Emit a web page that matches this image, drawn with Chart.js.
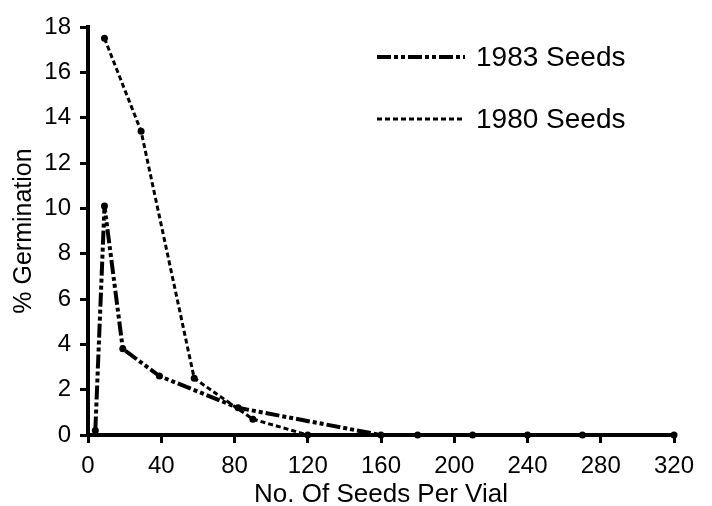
<!DOCTYPE html>
<html>
<head>
<meta charset="utf-8">
<script src="https://cdn.jsdelivr.net/npm/chart.js@4.4.1/dist/chart.umd.min.js"></script>
<style>
  html, body { margin: 0; padding: 0; background: #fff; }
  #wrap { width: 712px; height: 506px; position: relative; }
</style>
</head>
<body>
<div id="wrap"><canvas id="chart"></canvas></div>
<script>
// данные
const seeds1983 = [4, 9, 19, 39, 82, 160, 180, 210, 240, 270, 320];
const germ1983 = [0.2, 10.1, 3.8, 2.6, 1.2, 0, 0, 0, 0, 0, 0];
const seeds1980 = [9, 29, 58, 90, 120];
const germ1980 = [17.5, 13.4, 2.5, 0.7, 0];
const seriesLabels = ['1983 Seeds', '1980 Seeds'];
const xTicks = [0, 40, 80, 120, 160, 200, 240, 280, 320];
const yTicks = [0, 2, 4, 6, 8, 10, 12, 14, 16, 18];

const FONT = '"Liberation Sans", Arial, Helvetica, sans-serif';
const dash1983 = [14, 3, 4, 3, 4, 3];
const dash1980 = [5, 3];

// легенда рисуется вручную, как на оригинале
const legendPlugin = {
    id: 'manualLegend',
    afterDraw(chart) {
        const ctx = chart.ctx;
        const rows = [
            { y: 57, dash: dash1983, width: 4, text: seriesLabels[0] },
            { y: 119, dash: dash1980, width: 3, text: seriesLabels[1] }
        ];
        ctx.save();
        rows.forEach(r => {
            ctx.beginPath();
            ctx.setLineDash(r.dash);
            ctx.lineWidth = r.width;
            ctx.strokeStyle = '#000';
            ctx.moveTo(377, r.y);
            ctx.lineTo(465, r.y);
            ctx.stroke();
            ctx.setLineDash([]);
            ctx.fillStyle = '#000';
            ctx.font = '28px ' + FONT;
            ctx.textBaseline = 'middle';
            ctx.fillText(r.text, 476, r.y + 1);
        });
        ctx.restore();
    }
};

new Chart(document.getElementById('chart').getContext('2d'), {
    type: 'line',
    data: {
        datasets: [{
            label: seriesLabels[0],
            data: seeds1983.map((x, i) => ({ x: x, y: germ1983[i] })),
            borderColor: '#000',
            backgroundColor: '#000',
            borderWidth: 4,
            borderDash: dash1983,
            pointRadius: 3.5,
            pointBorderWidth: 0,
            tension: 0,
            clip: false
        }, {
            label: seriesLabels[1],
            data: seeds1980.map((x, i) => ({ x: x, y: germ1980[i] })),
            borderColor: '#000',
            backgroundColor: '#000',
            borderWidth: 3,
            borderDash: dash1980,
            pointRadius: 3.5,
            pointBorderWidth: 0,
            tension: 0,
            clip: false
        }]
    },
    options: {
        responsive: true,
        maintainAspectRatio: false,
        animation: false,
        layout: { padding: { top: 27, right: 38, left: 0, bottom: 0 } },
        plugins: {
            legend: { display: false },
            tooltip: { enabled: false }
        },
        scales: {
            x: {
                type: 'linear',
                min: 0,
                max: 320,
                afterBuildTicks: axis => { axis.ticks = xTicks.map(v => ({ value: v })); },
                afterFit: axis => { axis.height = 71; },
                border: { display: true, color: '#000', width: 4 },
                grid: { drawOnChartArea: false, color: '#000', tickLength: 8, tickWidth: 3 },
                ticks: { color: '#000', font: { family: FONT, size: 24 }, padding: 9, maxRotation: 0 },
                title: { display: true, text: 'No. Of Seeds Per Vial', color: '#000', font: { family: FONT, size: 26, lineHeight: 0.85 }, padding: { top: 2, bottom: 0 } }
            },
            y: {
                min: 0,
                max: 18,
                afterBuildTicks: axis => { axis.ticks = yTicks.map(v => ({ value: v })); },
                afterFit: axis => { axis.width = 88; },
                border: { display: true, color: '#000', width: 4 },
                grid: { drawOnChartArea: false, color: '#000', tickLength: 8, tickWidth: 3 },
                ticks: { color: '#000', font: { family: FONT, size: 24 }, padding: 9 },
                title: { display: true, text: '% Germination', color: '#000', font: { family: FONT, size: 25, lineHeight: 1 }, padding: { top: 12, bottom: 0 } }
            }
        }
    },
    plugins: [legendPlugin]
});
</script>
</body>
</html>
